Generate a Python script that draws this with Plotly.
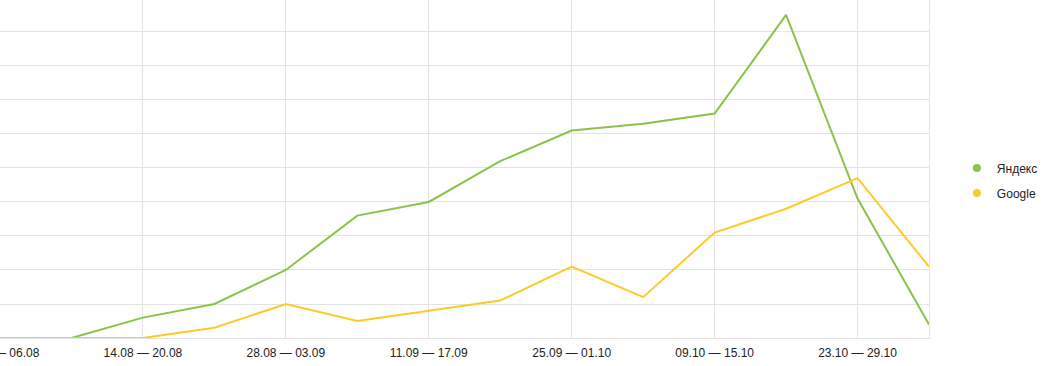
import plotly.graph_objects as go

categories = [
    "31.07 — 06.08", "07.08 — 13.08", "14.08 — 20.08", "21.08 — 27.08",
    "28.08 — 03.09", "04.09 — 10.09", "11.09 — 17.09", "18.09 — 24.09",
    "25.09 — 01.10", "02.10 — 08.10", "09.10 — 15.10", "16.10 — 22.10",
    "23.10 — 29.10", "30.10 — 05.11",
]
yandex = [0, 0, 6, 10, 20, 36, 40, 52, 61, 63, 66, 95, 41, 4]
google = [0, 0, 0, 3, 10, 5, 8, 11, 21, 12, 31, 38, 47, 21]

GREEN = "#8BC34A"
YELLOW = "#FFCA28"
GRID = "#e3e3e3"

fig = go.Figure()
fig.add_trace(go.Scatter(x=categories, y=yandex, mode="lines",
                         line=dict(color=GREEN, width=2), showlegend=False))
fig.add_trace(go.Scatter(x=categories, y=google, mode="lines",
                         line=dict(color=YELLOW, width=2), showlegend=False))
# legend entries shown as dots
fig.add_trace(go.Scatter(x=[None], y=[None], mode="markers", name="Яндекс",
                         legendgroup="a",
                         marker=dict(color=GREEN, size=8, symbol="circle")))
fig.add_trace(go.Scatter(x=[None], y=[None], mode="markers", name="Google",
                         legendgroup="b",
                         marker=dict(color=YELLOW, size=8, symbol="circle")))

tick_idx = list(range(0, len(categories), 2))
fig.update_layout(
    width=1051, height=366,
    margin=dict(l=0, r=122, t=0, b=28, autoexpand=False),
    plot_bgcolor="white", paper_bgcolor="white",
    font=dict(family="Liberation Sans, Arial, sans-serif", size=12, color="#222"),
    xaxis=dict(
        type="category", range=[0, len(categories) - 1],
        tickvals=[categories[i] for i in tick_idx],
        ticktext=[categories[i] for i in tick_idx],
        showgrid=True, gridcolor=GRID, gridwidth=1,
        showline=True, linecolor=GRID, linewidth=1,
        ticks="", tickfont=dict(size=12, color="#222"),
        ticklabelstandoff=4,
        zeroline=False, automargin=False,
    ),
    yaxis=dict(
        range=[0, 99.4], dtick=10, side="right",
        showgrid=True, gridcolor=GRID, gridwidth=1,
        showline=True, linecolor=GRID, linewidth=1,
        showticklabels=False, ticks="", zeroline=False, automargin=False,
    ),
    legend=dict(
        x=1.03, xanchor="left", y=0.466, yanchor="middle",
        font=dict(size=12, color="#222"),
        tracegroupgap=6, traceorder="grouped",
        bgcolor="rgba(0,0,0,0)",
    ),
)

fig.write_html("out.html")
